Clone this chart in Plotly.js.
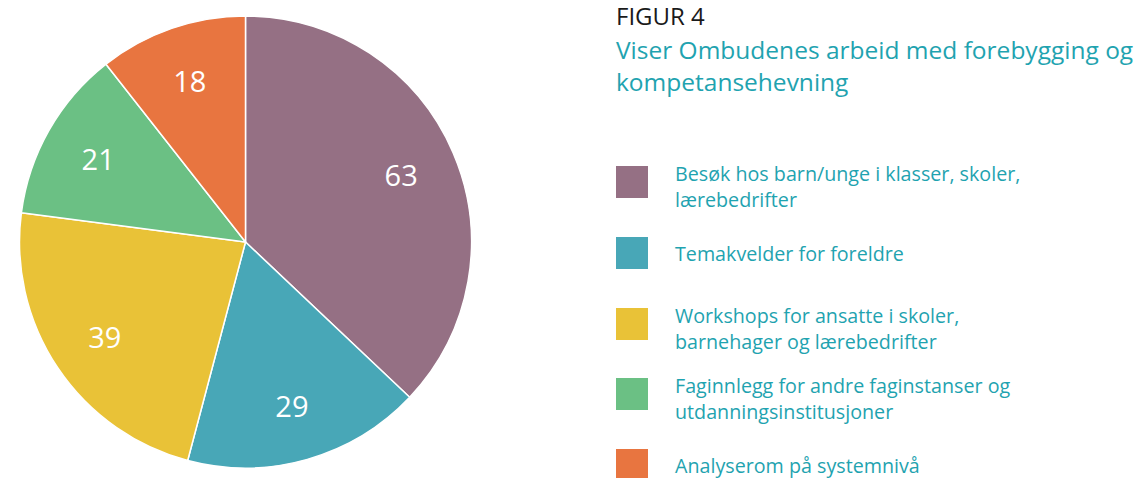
<!DOCTYPE html>
<html>
<head>
<meta charset="utf-8">
<script src="https://cdn.plot.ly/plotly-3.0.1.min.js"></script>
<style>
html,body{margin:0;padding:0;background:#ffffff;}
#chart{width:1139px;height:478px;}
</style>
</head>
<body>
<div id="chart"></div>
<script>
// ---- data ----
const categories = [
  "Besøk hos barn/unge i klasser, skoler,<br>lærebedrifter",
  "Temakvelder for foreldre",
  "Workshops for ansatte i skoler,<br>barnehager og lærebedrifter",
  "Faginnlegg for andre faginstanser og<br>utdanningsinstitusjoner",
  "Analyserom på systemnivå"
];
const values = [63, 29, 39, 21, 18];
const colors = ["#957084", "#48A7B7", "#E9C237", "#6BC084", "#E87540"];
const figureLabel = "FIGUR 4";
const titleText = "Viser Ombudenes arbeid med forebygging og<br>kompetansehevning";

// ---- layout helpers ----
const W = 1139, H = 478;
const px = x => x / W;
const py = y => 1 - y / H;
const FONT = "'Open Sans', sans-serif";
const TEAL = "#1FA3B0";
const pieDomain = {x: [px(19), px(472)], y: [py(468), py(16)]};

// slices
const trace = {
  type: "pie",
  values: values,
  labels: categories,
  sort: false,
  direction: "clockwise",
  rotation: 0,
  marker: {colors: colors, line: {color: "#ffffff", width: 1.5}},
  textinfo: "none",
  hoverinfo: "label+value",
  domain: pieDomain,
  showlegend: false
};
// transparent ring carrying the value labels further out
const labelTrace = {
  type: "pie",
  values: values,
  labels: categories,
  sort: false,
  direction: "clockwise",
  rotation: 0,
  hole: 0.5,
  marker: {colors: values.map(() => "rgba(0,0,0,0)"), line: {width: 0}},
  textinfo: "value",
  textposition: "inside",
  insidetextorientation: "horizontal",
  textfont: {family: FONT, size: 29, color: "#ffffff"},
  hoverinfo: "skip",
  domain: pieDomain,
  showlegend: false
};

const squareTops = [166, 237, 308, 378, 449];
const squareSize = 32;
const shapes = [];
const annotations = [];

categories.forEach((c, i) => {
  const t = squareTops[i];
  shapes.push({
    type: "rect", xref: "paper", yref: "paper",
    x0: px(616), x1: px(616 + squareSize),
    y0: py(t + squareSize), y1: py(t),
    fillcolor: colors[i], line: {width: 0}
  });
  const multi = c.indexOf("<br>") >= 0;
  annotations.push({
    xref: "paper", yref: "paper",
    x: px(673), y: py(t + squareSize / 2 + (multi ? 4 : 0)),
    xanchor: "left", yanchor: "middle", align: "left",
    text: c, showarrow: false,
    font: {family: FONT, size: 19.7, color: TEAL}
  });
});

annotations.push({
  xref: "paper", yref: "paper", x: px(614), y: py(16),
  xanchor: "left", yanchor: "middle", align: "left",
  text: figureLabel, showarrow: false,
  font: {family: FONT, size: 24, color: "#1a1a1a"}
});
annotations.push({
  xref: "paper", yref: "paper", x: px(614), y: py(65),
  xanchor: "left", yanchor: "middle", align: "left",
  text: titleText, showarrow: false,
  font: {family: FONT, size: 24.5, color: TEAL}
});

const layout = {
  width: W, height: H,
  margin: {l: 0, r: 0, t: 0, b: 0},
  paper_bgcolor: "#ffffff",
  plot_bgcolor: "#ffffff",
  shapes: shapes,
  annotations: annotations,
  showlegend: false
};

Plotly.newPlot("chart", [trace, labelTrace], layout, {displayModeBar: false, responsive: false});
</script>
</body>
</html>
